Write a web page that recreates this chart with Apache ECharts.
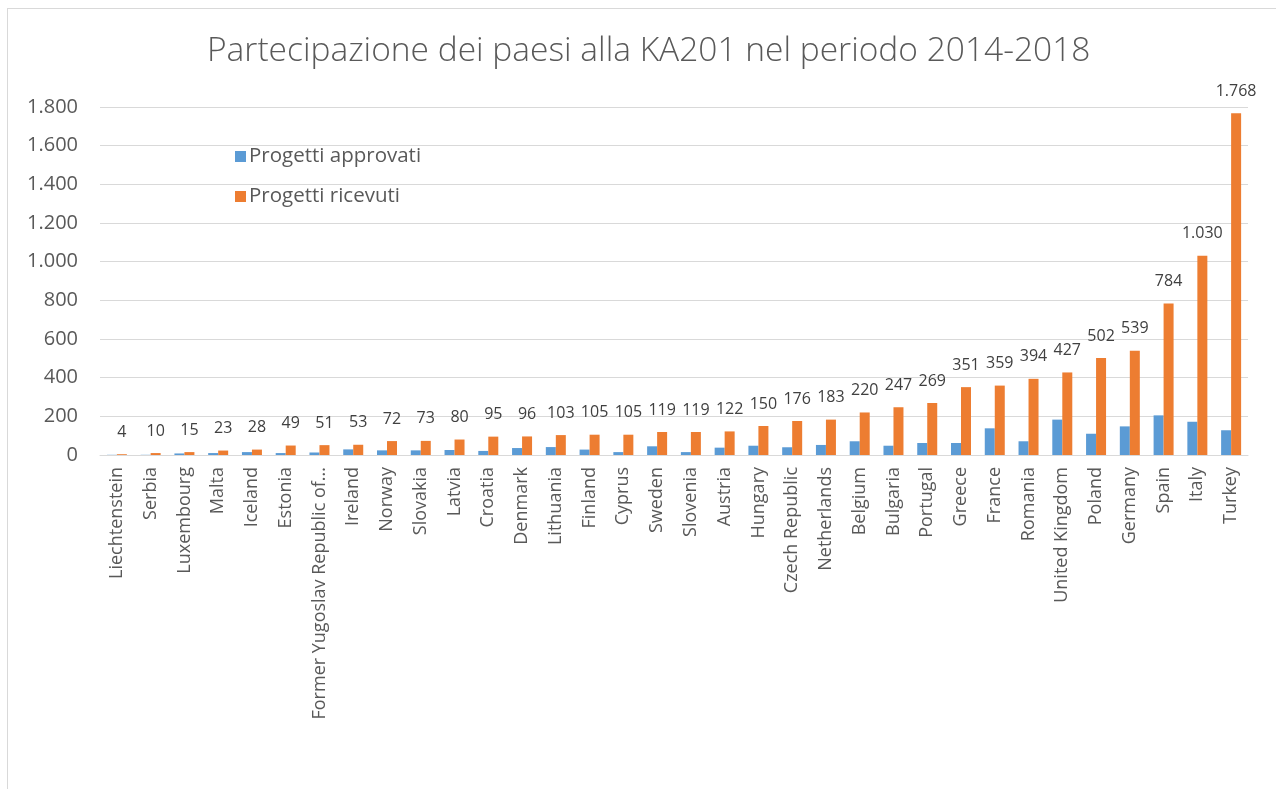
<!DOCTYPE html>
<html>
<head>
<meta charset="utf-8">
<script src="https://cdn.jsdelivr.net/npm/echarts@6/dist/echarts.min.js"></script>
<style>
  html, body { margin: 0; padding: 0; background: #fff; }
  #frame { position: absolute; left: 7px; top: 8px; width: 1300px; height: 800px; border: 1px solid #d9d9d9; }
  #main { position: absolute; left: 0; top: 0; width: 1276px; height: 789px; }
</style>
</head>
<body>
<div id="frame"></div>
<div id="main"></div>
<script>
var countries = ["Liechtenstein", "Serbia", "Luxembourg", "Malta", "Iceland", "Estonia",
  "Former Yugoslav Republic of Macedonia", "Ireland", "Norway", "Slovakia", "Latvia", "Croatia",
  "Denmark", "Lithuania", "Finland", "Cyprus", "Sweden", "Slovenia", "Austria", "Hungary",
  "Czech Republic", "Netherlands", "Belgium", "Bulgaria", "Portugal", "Greece", "France",
  "Romania", "United Kingdom", "Poland", "Germany", "Spain", "Italy", "Turkey"];
var approvati = [1, 1, 8, 10, 15, 10, 13, 29, 24, 24, 26, 21, 36, 41, 28, 15, 45, 15, 38, 48,
  40, 52, 71, 48, 62, 62, 138, 71, 183, 110, 148, 205, 172, 128];
var ricevuti = [4, 10, 15, 23, 28, 49, 51, 53, 72, 73, 80, 95, 96, 103, 105, 105, 119, 119, 122, 150,
  176, 183, 220, 247, 269, 351, 359, 394, 427, 502, 539, 784, 1030, 1768];

function fmt(v) {
  return String(v).replace(/\B(?=(\d{3})+(?!\d))/g, ".");
}

var myChart = echarts.init(document.getElementById("main"));
var font = "'Open Sans', sans-serif";
myChart.setOption({
  animation: false,
  textStyle: { fontFamily: font },
  title: {
    text: "Partecipazione dei paesi alla KA201 nel periodo 2014-2018",
    left: 202,
    top: 29,
    textStyle: { color: "#595959", fontSize: 33.5, fontWeight: 300, fontFamily: font }
  },
  legend: {
    orient: "vertical",
    left: 230,
    top: 141,
    itemWidth: 11,
    itemHeight: 11,
    itemGap: 19,
    icon: "rect",
    textStyle: { color: "#595959", fontSize: 20.5, fontFamily: font, padding: [0, 0, 0, -2] },
    data: ["Progetti approvati", "Progetti ricevuti"]
  },
  grid: { left: 100, right: 28, top: 107, bottom: 334, containLabel: false },
  xAxis: {
    type: "category",
    data: countries,
    axisLine: { lineStyle: { color: "#d9d9d9", width: 1 } },
    axisTick: { show: false },
    axisLabel: {
      interval: 0,
      rotate: 90,
      color: "#595959",
      fontSize: 18,
      margin: 12,
      width: 258,
      overflow: "truncate",
      ellipsis: "..."
    }
  },
  yAxis: {
    type: "value",
    min: 0,
    max: 1800,
    interval: 200,
    axisLine: { show: false },
    axisTick: { show: false },
    splitLine: { lineStyle: { color: "#d9d9d9", width: 1 } },
    axisLabel: { color: "#595959", fontSize: 20, margin: 22, formatter: fmt }
  },
  series: [
    {
      name: "Progetti approvati",
      type: "bar",
      barWidth: 10,
      barGap: "0%",
      itemStyle: { color: "#5b9bd5" },
      data: approvati
    },
    {
      name: "Progetti ricevuti",
      type: "bar",
      barWidth: 10,
      barGap: "0%",
      itemStyle: { color: "#ed7d31" },
      label: {
        show: true,
        position: "top",
        distance: 14,
        color: "#404040",
        fontSize: 16,
        fontFamily: font,
        formatter: function (p) { return fmt(p.value); }
      },
      data: ricevuti
    }
  ]
});
</script>
</body>
</html>
